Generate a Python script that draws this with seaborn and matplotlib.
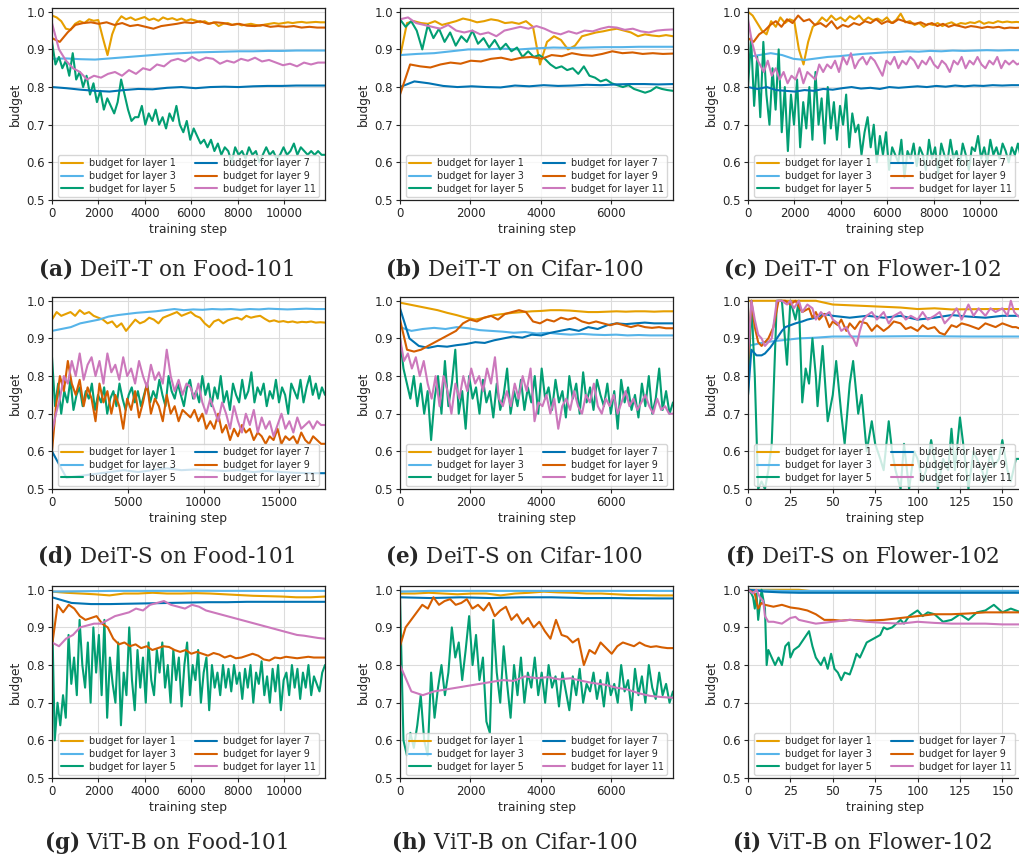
import numpy as np
import matplotlib
matplotlib.use("Agg")
import matplotlib.pyplot as plt
import seaborn as sns

# ---------------- data ----------------
layers = [1, 3, 5, 7, 9, 11]

# (a) DeiT-T on Food-101
a_l1 = [0.99,0.985,0.975,0.955,0.952,0.968,0.975,0.97,0.98,0.976,0.978,0.93,0.885,0.94,0.972,0.988,0.98,0.985,0.978,0.982,
        0.986,0.978,0.982,0.976,0.985,0.98,0.983,0.978,0.982,0.976,0.98,0.977,0.972,0.975,0.968,0.972,0.962,0.968,0.97,0.965,
        0.968,0.964,0.966,0.968,0.965,0.963,0.966,0.968,0.97,0.968,0.97,0.972,0.97,0.972,0.973,0.971,0.972,0.973,0.972,0.972]
a_l3 = [0.875,0.876,0.874,0.873,0.876,0.879,0.882,0.885,0.888,0.890,0.892,0.893,0.894,0.895,0.895,0.896,0.896,0.897,0.897,0.897]
a_l5 = [0.92,0.86,0.88,0.85,0.87,0.83,0.89,0.82,0.84,0.80,0.83,0.78,0.81,0.76,0.79,0.74,0.77,0.75,0.73,0.76,
        0.82,0.78,0.74,0.71,0.72,0.72,0.75,0.70,0.73,0.71,0.74,0.70,0.72,0.69,0.73,0.71,0.75,0.70,0.68,0.71,
        0.66,0.69,0.67,0.65,0.66,0.64,0.66,0.63,0.65,0.62,0.64,0.63,0.60,0.64,0.62,0.63,0.61,0.64,0.62,0.63,
        0.60,0.62,0.64,0.62,0.63,0.61,0.62,0.64,0.62,0.63,0.65,0.62,0.64,0.63,0.62,0.63,0.62,0.63,0.62,0.62]
a_l7 = [0.80,0.797,0.793,0.79,0.788,0.792,0.795,0.794,0.798,0.80,0.797,0.80,0.801,0.80,0.802,0.803,0.803,0.804,0.804,0.804]
a_l9 = [0.93,0.92,0.945,0.965,0.97,0.972,0.968,0.972,0.965,0.97,0.962,0.965,0.96,0.955,0.962,0.965,0.968,0.972,0.97,0.975,
        0.968,0.972,0.97,0.965,0.968,0.963,0.962,0.965,0.96,0.962,0.96,0.962,0.958,0.96,0.958,0.958]
a_l11 = [0.97,0.90,0.87,0.85,0.84,0.82,0.83,0.825,0.835,0.84,0.83,0.845,0.835,0.85,0.845,0.86,0.855,0.87,0.875,0.868,
         0.88,0.87,0.878,0.875,0.862,0.87,0.865,0.875,0.87,0.878,0.868,0.872,0.865,0.858,0.862,0.855,0.865,0.86,0.865,0.865]

# (b) DeiT-T on Cifar-100
b_l1 = [0.88,0.97,0.975,0.97,0.968,0.975,0.965,0.97,0.975,0.982,0.978,0.972,0.975,0.98,0.977,0.97,0.972,0.968,0.975,0.96,
        0.86,0.92,0.935,0.925,0.90,0.91,0.935,0.94,0.945,0.948,0.952,0.955,0.95,0.945,0.935,0.94,0.937,0.935,0.938,0.935]
b_l3 = [0.885,0.888,0.89,0.895,0.90,0.90,0.902,0.90,0.903,0.905,0.904,0.905,0.906,0.906,0.907,0.907,0.907]
b_l5 = [0.98,0.96,0.975,0.95,0.90,0.965,0.93,0.955,0.92,0.945,0.91,0.935,0.92,0.95,0.915,0.93,0.905,0.925,0.90,0.915,
        0.895,0.905,0.88,0.895,0.88,0.885,0.875,0.86,0.85,0.855,0.845,0.85,0.835,0.855,0.83,0.825,0.815,0.82,0.81,0.805,
        0.80,0.805,0.795,0.79,0.785,0.79,0.80,0.795,0.792,0.79]
b_l7 = [0.80,0.815,0.81,0.803,0.80,0.802,0.80,0.799,0.804,0.802,0.805,0.803,0.804,0.806,0.805,0.807,0.808,0.808,0.807,0.808]
b_l9 = [0.78,0.86,0.855,0.852,0.86,0.865,0.862,0.87,0.868,0.875,0.878,0.872,0.878,0.88,0.875,0.885,0.882,0.89,0.885,0.883,
        0.888,0.895,0.89,0.892,0.888,0.89,0.888,0.889]
b_l11 = [0.98,0.985,0.97,0.965,0.96,0.955,0.965,0.95,0.945,0.95,0.94,0.945,0.935,0.95,0.955,0.96,0.955,0.962,0.955,0.945,
         0.94,0.948,0.942,0.95,0.948,0.955,0.96,0.958,0.952,0.955,0.948,0.945,0.95,0.952,0.953]

# (c) DeiT-T on Flower-102
c_l1 = [1.0,0.99,0.97,0.95,0.94,0.975,0.96,0.985,0.97,0.98,0.975,0.90,0.86,0.92,0.96,0.97,0.985,0.975,0.99,0.978,
        0.985,0.975,0.988,0.98,0.99,0.976,0.985,0.978,0.982,0.975,0.985,0.97,0.978,0.995,0.972,0.975,0.965,0.97,0.96,0.968,
        0.965,0.97,0.962,0.968,0.972,0.965,0.97,0.968,0.972,0.97,0.975,0.968,0.972,0.97,0.975,0.972,0.974,0.972,0.973,0.972]
c_l3 = [0.88,0.885,0.89,0.885,0.875,0.872,0.876,0.88,0.882,0.885,0.888,0.89,0.892,0.893,0.895,0.894,0.896,0.895,0.897,0.896,
        0.897,0.898,0.897,0.898,0.898]
c_l5 = [0.80,0.93,0.75,0.88,0.72,0.92,0.78,0.70,0.85,0.74,0.90,0.68,0.80,0.63,0.78,0.70,0.82,0.64,0.76,0.69,
        0.80,0.66,0.84,0.70,0.77,0.65,0.80,0.69,0.76,0.66,0.75,0.70,0.78,0.64,0.73,0.68,0.70,0.62,0.68,0.72,
        0.64,0.70,0.60,0.67,0.62,0.68,0.58,0.64,0.62,0.60,0.66,0.56,0.63,0.61,0.65,0.59,0.64,0.62,0.58,0.66,
        0.61,0.64,0.57,0.65,0.62,0.60,0.66,0.61,0.63,0.59,0.65,0.62,0.58,0.64,0.63,0.67,0.61,0.64,0.60,0.66,
        0.62,0.64,0.61,0.65,0.63,0.60,0.64,0.62,0.65,0.61]
c_l7 = [0.80,0.795,0.80,0.792,0.79,0.788,0.792,0.79,0.795,0.793,0.797,0.80,0.796,0.798,0.795,0.80,0.798,0.80,0.802,0.80,
        0.803,0.801,0.804,0.802,0.804,0.803,0.805,0.804,0.805,0.805]
c_l9 = [0.93,0.92,0.94,0.95,0.965,0.975,0.96,0.98,0.97,0.99,0.975,0.98,0.965,0.97,0.96,0.975,0.955,0.965,0.96,0.97,
        0.965,0.975,0.97,0.98,0.968,0.975,0.97,0.98,0.975,0.97,0.968,0.972,0.965,0.97,0.962,0.968,0.96,0.965,0.962,0.958,
        0.962,0.96,0.957,0.96,0.958,0.96,0.956,0.958,0.957,0.958]
c_l11 = [0.98,0.92,0.88,0.86,0.84,0.87,0.83,0.85,0.82,0.84,0.81,0.83,0.82,0.85,0.81,0.84,0.83,0.82,0.86,0.84,
         0.86,0.85,0.87,0.84,0.88,0.86,0.89,0.85,0.87,0.88,0.86,0.88,0.87,0.85,0.83,0.87,0.86,0.88,0.85,0.87,
         0.86,0.88,0.87,0.85,0.87,0.86,0.88,0.86,0.85,0.87,0.86,0.84,0.87,0.86,0.88,0.85,0.87,0.86,0.88,0.86,
         0.85,0.87,0.86,0.88,0.85,0.87,0.86,0.87,0.86,0.865]

# (d) DeiT-S on Food-101
d_l1 = [0.95,0.97,0.96,0.965,0.97,0.96,0.975,0.965,0.97,0.96,0.955,0.95,0.94,0.945,0.93,0.94,0.92,0.935,0.95,0.94,
        0.945,0.955,0.95,0.94,0.955,0.96,0.965,0.97,0.96,0.965,0.97,0.96,0.955,0.94,0.93,0.945,0.95,0.94,0.948,0.952,
        0.955,0.95,0.96,0.955,0.958,0.96,0.952,0.945,0.948,0.944,0.946,0.943,0.945,0.942,0.944,0.943,0.945,0.942,0.943,0.942]
d_l3 = [0.92,0.925,0.93,0.94,0.945,0.95,0.958,0.962,0.965,0.968,0.97,0.972,0.975,0.978,0.975,0.977,0.976,0.978,0.977,0.978,
        0.976,0.978,0.977,0.979,0.978,0.977,0.978,0.979,0.978,0.978]
d_l5 = [0.85,0.72,0.78,0.70,0.76,0.73,0.79,0.71,0.75,0.77,0.72,0.76,0.74,0.78,0.71,0.75,0.73,0.77,0.70,0.74,
        0.76,0.72,0.78,0.74,0.71,0.75,0.77,0.73,0.76,0.72,0.75,0.78,0.73,0.76,0.74,0.79,0.75,0.72,0.80,0.76,
        0.74,0.78,0.75,0.72,0.77,0.79,0.74,0.76,0.73,0.80,0.75,0.78,0.72,0.77,0.74,0.80,0.73,0.76,0.71,0.78,
        0.75,0.73,0.79,0.74,0.76,0.81,0.73,0.77,0.75,0.78,0.72,0.76,0.74,0.79,0.73,0.77,0.75,0.70,0.78,0.76,
        0.74,0.79,0.73,0.77,0.80,0.75,0.78,0.74,0.77,0.75]
d_l7 = [0.60,0.53,0.535,0.54,0.545,0.55,0.545,0.55,0.555,0.55,0.552,0.55,0.548,0.55,0.545,0.548,0.545,0.543,0.542,0.542]
d_l9 = [0.60,0.72,0.80,0.76,0.84,0.78,0.75,0.79,0.72,0.77,0.74,0.68,0.78,0.73,0.76,0.70,0.75,0.72,0.66,0.74,
        0.71,0.76,0.69,0.73,0.78,0.70,0.74,0.72,0.68,0.75,0.70,0.72,0.68,0.71,0.70,0.69,0.71,0.68,0.70,0.66,
        0.68,0.66,0.70,0.65,0.67,0.63,0.66,0.64,0.67,0.65,0.66,0.63,0.65,0.64,0.62,0.64,0.63,0.66,0.62,0.64,
        0.63,0.64,0.62,0.65,0.63,0.62,0.64,0.63,0.62,0.62]
d_l11 = [0.65,0.70,0.74,0.80,0.78,0.84,0.80,0.86,0.79,0.83,0.85,0.80,0.84,0.78,0.86,0.81,0.83,0.79,0.85,0.80,
         0.82,0.78,0.84,0.80,0.77,0.83,0.79,0.81,0.78,0.87,0.80,0.76,0.79,0.75,0.78,0.77,0.74,0.78,0.73,0.70,
         0.74,0.71,0.68,0.73,0.70,0.66,0.72,0.68,0.65,0.70,0.67,0.71,0.65,0.69,0.66,0.68,0.64,0.67,0.70,0.66,
         0.68,0.65,0.69,0.66,0.67,0.68,0.66,0.68,0.67,0.67]

# (e) DeiT-S on Cifar-100
e_l1 = [0.995,0.99,0.985,0.98,0.975,0.968,0.962,0.955,0.95,0.955,0.962,0.965,0.968,0.97,0.972,0.973,0.975,0.975,0.974,0.972,
        0.97,0.97,0.971,0.972,0.971,0.972,0.972,0.971,0.972,0.972]
e_l3 = [0.93,0.92,0.925,0.928,0.925,0.93,0.927,0.922,0.92,0.918,0.915,0.917,0.913,0.915,0.912,0.91,0.912,0.91,0.909,0.91,
        0.908,0.909,0.908,0.908,0.908]
e_l5 = [0.90,0.82,0.78,0.74,0.80,0.72,0.78,0.70,0.76,0.63,0.74,0.80,0.70,0.84,0.72,0.78,0.87,0.70,0.76,0.66,
        0.80,0.74,0.77,0.70,0.79,0.73,0.76,0.69,0.78,0.71,0.75,0.82,0.70,0.76,0.72,0.79,0.71,0.77,0.73,0.80,
        0.70,0.82,0.74,0.77,0.71,0.79,0.73,0.76,0.69,0.80,0.74,0.78,0.70,0.81,0.73,0.77,0.71,0.79,0.75,0.72,
        0.78,0.70,0.76,0.66,0.79,0.73,0.77,0.71,0.75,0.69,0.78,0.72,0.80,0.70,0.74,0.82,0.71,0.76,0.70,0.73]
e_l7 = [0.98,0.90,0.88,0.875,0.88,0.878,0.882,0.885,0.89,0.888,0.895,0.90,0.905,0.902,0.91,0.908,0.915,0.92,0.925,0.92,
        0.93,0.925,0.935,0.94,0.938,0.94,0.942,0.94,0.94,0.94]
e_l9 = [0.95,0.87,0.865,0.87,0.88,0.89,0.90,0.91,0.92,0.94,0.95,0.945,0.955,0.96,0.95,0.965,0.97,0.975,0.97,0.945,
        0.94,0.95,0.945,0.955,0.95,0.955,0.945,0.94,0.945,0.94,0.935,0.94,0.935,0.93,0.935,0.93,0.928,0.93,0.927,0.927]
e_l11 = [0.90,0.84,0.86,0.82,0.85,0.80,0.84,0.78,0.74,0.80,0.72,0.80,0.76,0.70,0.78,0.74,0.80,0.76,0.82,0.78,
         0.80,0.76,0.82,0.78,0.85,0.74,0.72,0.76,0.72,0.78,0.74,0.80,0.76,0.82,0.68,0.73,0.72,0.75,0.70,0.74,
         0.66,0.72,0.74,0.71,0.76,0.72,0.70,0.75,0.73,0.78,0.72,0.70,0.74,0.72,0.75,0.70,0.73,0.76,0.72,0.74,
         0.71,0.73,0.75,0.72,0.70,0.74,0.71,0.72,0.70,0.70]

# (f) DeiT-S on Flower-102  (step, value)
f_l1_x = [0,40,50,60,75,90,100,110,120,140,161]
f_l1 = [1.0,1.0,0.99,0.988,0.985,0.982,0.978,0.98,0.977,0.978,0.978]
f_l3_x = [0,5,10,20,30,40,50,70,100,130,161]
f_l3 = [0.88,0.885,0.89,0.895,0.90,0.902,0.905,0.905,0.906,0.905,0.905]
f_l5_x = [0,2,4,6,8,10,12,14,17,20,23,25,28,30,32,34,36,38,40,41,44,47,50,52,55,57,60,62,65,67,
          70,73,75,78,80,83,85,87,90,92,95,98,100,103,105,108,110,112,115,118,120,122,125,128,130,133,135,138,140,143,
          145,148,150,153,155,158,161]
f_l5 = [0.75,1.0,0.80,0.50,0.52,0.50,0.55,0.62,1.0,1.0,0.83,1.0,0.95,1.0,0.73,0.82,0.78,0.90,0.80,0.72,
        0.88,0.68,0.75,0.84,0.70,0.62,0.78,0.84,0.70,0.75,0.60,0.68,0.62,0.58,0.55,0.68,0.60,0.55,0.50,0.62,
        0.50,0.60,0.58,0.52,0.55,0.63,0.58,0.50,0.58,0.55,0.66,0.55,0.69,0.58,0.50,0.60,0.58,0.55,0.52,0.60,
        0.56,0.58,0.63,0.55,0.52,0.58,0.58]
f_l7_x = [0,2,5,8,10,13,17,20,22,25,28,32,35,40,45,50,60,70,75,80,90,100,110,120,130,140,150,161]
f_l7 = [0.75,0.87,0.855,0.855,0.86,0.875,0.90,0.92,0.93,0.935,0.94,0.945,0.95,0.955,0.965,0.96,0.955,0.96,0.958,0.955,
        0.96,0.95,0.955,0.962,0.958,0.955,0.96,0.96]
f_l9_x = [0,2,4,6,8,10,12,15,18,22,25,28,32,36,38,40,42,45,48,50,53,55,58,60,63,66,70,73,76,80,
          83,86,90,93,96,100,103,106,110,113,116,120,123,126,130,133,136,140,143,146,150,153,156,158,161]
f_l9 = [0.83,1.0,0.93,0.89,0.88,0.89,0.90,0.93,1.0,1.0,0.99,1.0,0.97,0.98,0.955,0.97,0.95,0.965,0.93,0.945,
        0.935,0.95,0.92,0.94,0.925,0.945,0.94,0.92,0.935,0.92,0.93,0.945,0.94,0.925,0.93,0.92,0.935,0.925,0.93,0.915,
        0.91,0.935,0.93,0.94,0.935,0.93,0.925,0.94,0.935,0.93,0.94,0.935,0.93,0.93,0.925]
f_l11_x = [0,2,4,6,8,10,12,14,17,20,23,25,27,30,32,35,38,40,43,45,48,50,53,55,58,60,62,64,66,68,
           70,73,76,80,83,86,90,93,96,100,103,106,110,113,116,120,123,126,130,133,136,140,143,146,150,153,155,157,159,161]
f_l11 = [0.85,1.0,0.95,0.91,0.90,0.88,0.89,0.90,1.0,1.0,0.99,1.0,0.98,1.0,0.97,0.99,0.98,0.95,0.97,0.96,
         0.97,0.95,0.94,0.92,0.93,0.91,0.90,0.88,0.92,0.95,0.96,0.97,0.95,0.97,0.94,0.96,0.97,0.95,0.96,0.95,
         0.97,0.95,0.96,0.97,0.94,0.96,0.98,0.95,0.99,0.96,0.98,0.96,0.98,0.97,0.98,0.96,1.0,0.97,0.96,0.955]

# (g) ViT-B on Food-101
g_l1 = [0.995,0.992,0.99,0.988,0.985,0.99,0.99,0.992,0.99,0.99,0.991,0.99,0.988,0.986,0.984,0.983,0.982,0.98,0.98,0.982]
g_l3 = [0.995,0.996,0.997,0.997,0.997,0.997,0.997,0.997,0.997,0.997]
g_l5 = [0.95,0.60,0.70,0.64,0.72,0.66,0.88,0.75,0.82,0.72,0.92,0.80,0.74,0.86,0.70,0.90,0.78,0.88,0.72,0.92,
        0.66,0.82,0.75,0.70,0.86,0.64,0.78,0.72,0.90,0.76,0.68,0.84,0.74,0.82,0.70,0.86,0.76,0.72,0.84,0.78,
        0.86,0.74,0.80,0.70,0.84,0.76,0.82,0.69,0.80,0.86,0.72,0.80,0.76,0.84,0.70,0.78,0.82,0.68,0.80,0.74,
        0.78,0.72,0.80,0.74,0.79,0.73,0.80,0.75,0.78,0.71,0.79,0.74,0.80,0.70,0.78,0.75,0.81,0.72,0.77,0.70,
        0.79,0.73,0.80,0.68,0.76,0.78,0.72,0.80,0.74,0.79,0.71,0.78,0.74,0.80,0.72,0.77,0.75,0.73,0.78,0.80]
g_l7 = [0.98,0.965,0.962,0.962,0.963,0.964,0.965,0.966,0.967,0.967,0.968,0.968,0.968,0.968,0.968]
g_l9 = [0.85,0.96,0.94,0.96,0.95,0.93,0.92,0.925,0.93,0.91,0.90,0.87,0.855,0.86,0.85,0.855,0.845,0.85,0.84,0.845,
        0.85,0.848,0.84,0.835,0.84,0.83,0.835,0.83,0.825,0.832,0.828,0.82,0.825,0.818,0.82,0.825,0.83,0.825,0.815,0.812,
        0.82,0.818,0.822,0.82,0.818,0.82,0.822,0.82,0.82,0.82]
g_l11 = [0.86,0.85,0.87,0.88,0.90,0.905,0.91,0.91,0.92,0.93,0.935,0.94,0.95,0.945,0.96,0.965,0.97,0.96,0.955,0.95,
         0.96,0.955,0.945,0.94,0.935,0.93,0.925,0.92,0.915,0.91,0.905,0.90,0.895,0.89,0.885,0.88,0.878,0.875,0.872,0.87]

# (h) ViT-B on Cifar-100
h_l1 = [0.99,0.99,0.992,0.99,0.988,0.99,0.99,0.985,0.99,0.992,0.995,0.993,0.992,0.99,0.99,0.988,0.986,0.986,0.985,0.985]
h_l3 = [0.995,0.997,0.997,0.997,0.997,0.997,0.997,0.997,0.997,0.997]
h_l5 = [0.98,0.60,0.56,0.62,0.58,0.64,0.72,0.60,0.56,0.78,0.66,0.74,0.80,0.72,0.78,0.90,0.82,0.86,0.76,0.84,
        0.93,0.80,0.88,0.76,0.82,0.65,0.62,0.92,0.78,0.70,0.85,0.75,0.66,0.80,0.72,0.82,0.70,0.78,0.74,0.82,
        0.72,0.78,0.70,0.80,0.74,0.77,0.69,0.78,0.73,0.68,0.77,0.72,0.79,0.70,0.75,0.73,0.78,0.71,0.76,0.69,
        0.78,0.72,0.75,0.70,0.80,0.73,0.76,0.68,0.79,0.72,0.77,0.70,0.80,0.74,0.71,0.78,0.72,0.75,0.70,0.73]
h_l7 = [0.98,0.978,0.98,0.978,0.98,0.98,0.978,0.978,0.977,0.977]
h_l9 = [0.85,0.90,0.92,0.94,0.96,0.95,0.98,0.96,0.97,0.975,0.96,0.965,0.975,0.95,0.96,0.945,0.965,0.93,0.945,0.955,
        0.92,0.935,0.91,0.925,0.90,0.915,0.89,0.87,0.92,0.88,0.875,0.86,0.87,0.80,0.84,0.83,0.86,0.845,0.83,0.85,
        0.86,0.855,0.85,0.86,0.852,0.848,0.85,0.847,0.845,0.845]
h_l11 = [0.80,0.73,0.72,0.73,0.735,0.74,0.745,0.75,0.755,0.76,0.758,0.77,0.765,0.768,0.762,0.765,0.758,0.752,0.748,0.74,
         0.735,0.725,0.718,0.715,0.713]

# (i) ViT-B on Flower-102  (step, value)
i_l1_x = [0,30,40,161]
i_l1 = [1.0,1.0,0.995,0.995]
i_l3_x = [0,20,161]
i_l3 = [1.0,0.997,0.997]
i_l5_x = [0,2,3,4,5,6,8,10,11,12,14,16,18,20,22,24,25,27,30,33,36,38,40,43,45,47,49,51,53,55,
          57,60,62,64,66,70,74,78,80,82,85,90,92,95,100,103,106,110,115,120,125,130,135,140,145,150,155,158,161]
i_l5 = [1.0,0.99,0.98,0.95,0.99,0.92,1.0,0.95,0.80,0.84,0.82,0.80,0.82,0.80,0.85,0.86,0.82,0.84,0.85,0.87,
        0.89,0.85,0.82,0.80,0.82,0.79,0.83,0.79,0.78,0.76,0.78,0.775,0.80,0.83,0.82,0.86,0.87,0.88,0.90,0.895,
        0.90,0.92,0.91,0.93,0.945,0.93,0.94,0.935,0.915,0.92,0.935,0.92,0.94,0.945,0.96,0.94,0.95,0.945,0.94]
i_l7_x = [0,5,10,20,30,161]
i_l7 = [1.0,0.998,0.995,0.993,0.992,0.992]
i_l9_x = [0,4,6,8,10,15,20,25,30,35,40,45,50,55,60,70,80,90,100,110,120,130,140,150,161]
i_l9 = [1.0,0.99,0.95,0.965,0.96,0.955,0.96,0.953,0.95,0.945,0.935,0.92,0.92,0.918,0.92,0.918,0.92,0.925,0.93,0.935,
        0.935,0.937,0.94,0.94,0.94]
i_l11_x = [0,3,5,7,9,10,12,15,20,25,28,30,35,40,50,60,70,80,90,100,110,120,130,140,150,161]
i_l11 = [1.0,0.99,1.0,0.98,0.97,0.93,0.915,0.915,0.91,0.925,0.928,0.92,0.915,0.91,0.915,0.92,0.915,0.912,0.91,0.915,
         0.912,0.91,0.91,0.91,0.908,0.908]

captions = ["(a)", "(b)", "(c)", "(d)", "(e)", "(f)", "(g)", "(h)", "(i)"]
caption_texts = ["DeiT-T on Food-101", "DeiT-T on Cifar-100", "DeiT-T on Flower-102",
                 "DeiT-S on Food-101", "DeiT-S on Cifar-100", "DeiT-S on Flower-102",
                 "ViT-B on Food-101", "ViT-B on Cifar-100", "ViT-B on Flower-102"]
xmax_list = [11750, 7750, 11750, 18000, 7750, 161, 11750, 7750, 161]
xticks_long = [0, 2000, 4000, 6000, 8000, 10000]
xticks_mid = [0, 2000, 4000, 6000]
xticks_d = [0, 5000, 10000, 15000]
xticks_small = [0, 25, 50, 75, 100, 125, 150]
yticks = [0.5, 0.6, 0.7, 0.8, 0.9, 1.0]

# ---------------- build panels ----------------
def uni(vals, xmax):
    return (np.linspace(0, xmax, len(vals)), np.asarray(vals))

panels = [
    {1: uni(a_l1, 11750), 3: uni(a_l3, 11750), 5: uni(a_l5, 11750), 7: uni(a_l7, 11750), 9: uni(a_l9, 11750), 11: uni(a_l11, 11750)},
    {1: uni(b_l1, 7750), 3: uni(b_l3, 7750), 5: uni(b_l5, 7750), 7: uni(b_l7, 7750), 9: uni(b_l9, 7750), 11: uni(b_l11, 7750)},
    {1: uni(c_l1, 11750), 3: uni(c_l3, 11750), 5: uni(c_l5, 11750), 7: uni(c_l7, 11750), 9: uni(c_l9, 11750), 11: uni(c_l11, 11750)},
    {1: uni(d_l1, 18000), 3: uni(d_l3, 18000), 5: uni(d_l5, 18000), 7: uni(d_l7, 18000), 9: uni(d_l9, 18000), 11: uni(d_l11, 18000)},
    {1: uni(e_l1, 7750), 3: uni(e_l3, 7750), 5: uni(e_l5, 7750), 7: uni(e_l7, 7750), 9: uni(e_l9, 7750), 11: uni(e_l11, 7750)},
    {1: (f_l1_x, f_l1), 3: (f_l3_x, f_l3), 5: (f_l5_x, f_l5), 7: (f_l7_x, f_l7), 9: (f_l9_x, f_l9), 11: (f_l11_x, f_l11)},
    {1: uni(g_l1, 11750), 3: uni(g_l3, 11750), 5: uni(g_l5, 11750), 7: uni(g_l7, 11750), 9: uni(g_l9, 11750), 11: uni(g_l11, 11750)},
    {1: uni(h_l1, 7750), 3: uni(h_l3, 7750), 5: uni(h_l5, 7750), 7: uni(h_l7, 7750), 9: uni(h_l9, 7750), 11: uni(h_l11, 7750)},
    {1: (i_l1_x, i_l1), 3: (i_l3_x, i_l3), 5: (i_l5_x, i_l5), 7: (i_l7_x, i_l7), 9: (i_l9_x, i_l9), 11: (i_l11_x, i_l11)},
]
xticks_list = [xticks_long, xticks_mid, xticks_long, xticks_d, xticks_mid, xticks_small, xticks_long, xticks_mid, xticks_small]

# ---------------- style ----------------
sns.set_style("ticks")
plt.rcParams['font.family'] = ['DejaVu Sans']
plt.rcParams['mathtext.fontset'] = 'dejavuserif'

pal = sns.color_palette("colorblind")
colors = {1: "#E69F00", 3: pal[9], 5: pal[2], 7: pal[0], 9: pal[3], 11: pal[4]}

W, H = 1019, 858
fig = plt.figure(figsize=(W / 100, H / 100), dpi=100)

col_left = [52, 400, 748]
col_w = 273
row_top = [8, 297, 586]
row_h = 192
cap_cx = [166, 514, 862]
cap_cy = [268, 555, 842]

for k in range(9):
    r, c = divmod(k, 3)
    l = col_left[c] / W
    b = 1 - (row_top[r] + row_h) / H
    ax = fig.add_axes([l, b, col_w / W, row_h / H])
    for lay in layers:
        xs, ys = panels[k][lay]
        sns.lineplot(x=np.asarray(xs, dtype=float), y=np.asarray(ys, dtype=float), ax=ax,
                     color=colors[lay], linewidth=1.5, label=f"budget for layer {lay}",
                     legend=False, estimator=None, sort=False)
    ax.set_xlim(0, xmax_list[k])
    ax.set_ylim(0.5, 1.01)
    ax.set_xticks(xticks_list[k])
    ax.set_yticks(yticks)
    ax.set_yticklabels([f"{v:.1f}" for v in yticks])
    ax.grid(True, color='#dcdcdc', linewidth=0.8)
    ax.set_axisbelow(True)
    ax.tick_params(labelsize=8.5, length=3, width=0.8, pad=2)
    for sp in ax.spines.values():
        sp.set_color('#222222')
        sp.set_linewidth(0.9)
    ax.set_xlabel("training step", fontsize=8.8, labelpad=2)
    ax.set_ylabel("budget", fontsize=8.8, labelpad=3)
    handles, labels = ax.get_legend_handles_labels()
    ax.legend(handles, labels, ncol=2, loc="lower left", mode="expand",
              bbox_to_anchor=(0.022, 0.015, 0.956, 0.3), borderaxespad=0,
              fontsize=6.9, handlelength=2.3, handletextpad=0.6,
              labelspacing=0.3, borderpad=0.35, framealpha=0.8, edgecolor='#cccccc')
    fig.text(cap_cx[c] / W, 1 - cap_cy[r] / H, rf"$\mathbf{{{captions[k]}}}$ {caption_texts[k]}",
             ha='center', va='center', fontsize=15.5, family='DejaVu Serif')

fig.savefig("out.png", dpi=100)
